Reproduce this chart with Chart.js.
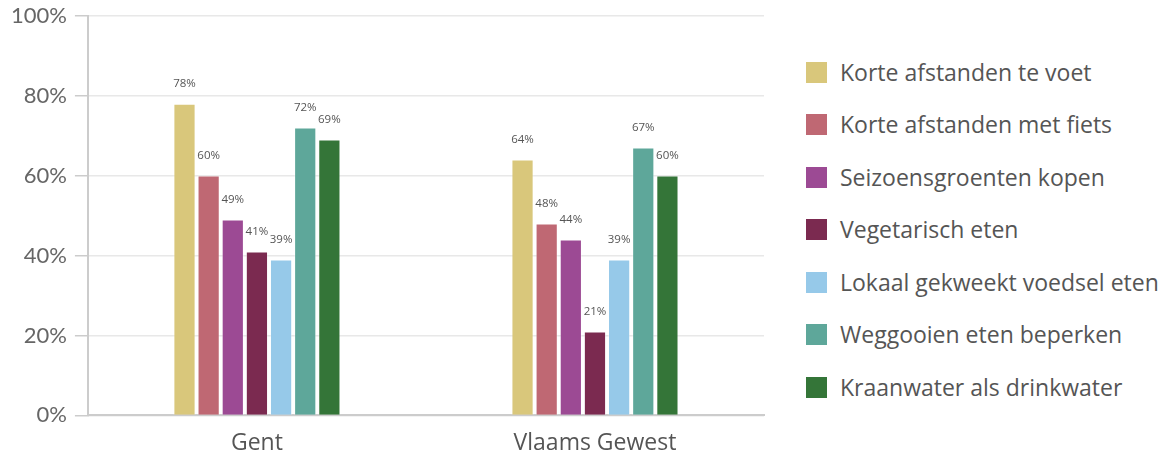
<!DOCTYPE html>
<html>
<head>
<meta charset="utf-8">
<script src="https://cdn.jsdelivr.net/npm/chart.js@4.4.1/dist/chart.umd.min.js"></script>
<style>
  html, body { margin: 0; padding: 0; background: #fff; }
  #wrap { position: relative; width: 1171px; height: 457px; overflow: hidden; }
  #chart { position: absolute; left: 0; top: 0; }
  #legend { position: absolute; left: 806px; top: 46px; margin: 0; padding: 0; list-style: none;
            font-family: "Open Sans", sans-serif; font-size: 23px; line-height: 23px; color: #555; }
  #legend li { height: 52.5px; display: flex; align-items: center; white-space: nowrap; }
  #legend span.box { display: inline-block; width: 21px; height: 21px; margin-right: 13px; }
</style>
</head>
<body>
<div id="wrap">
  <canvas id="chart" width="778" height="457"></canvas>
  <ul id="legend"></ul>
</div>
<script>
// categories and series
const regions = ['Gent', 'Vlaams Gewest'];
const seriesNames = [
  'Korte afstanden te voet',
  'Korte afstanden met fiets',
  'Seizoensgroenten kopen',
  'Vegetarisch eten',
  'Lokaal gekweekt voedsel eten',
  'Weggooien eten beperken',
  'Kraanwater als drinkwater'
];
const seriesColors = ['#d9c77b', '#bf6873', '#9c4a94', '#7b2a50', '#96c9e9', '#5ea79a', '#347538'];
const teVoet = [78, 64];
const metFiets = [60, 48];
const seizoen = [49, 44];
const vegetarisch = [41, 21];
const lokaal = [39, 39];
const weggooien = [72, 67];
const kraanwater = [69, 60];
const seriesValues = [teVoet, metFiets, seizoen, vegetarisch, lokaal, weggooien, kraanwater];
const yTicks = [0, 20, 40, 60, 80, 100];

// draws the small % labels above each bar
const valueLabels = {
  id: 'valueLabels',
  afterDatasetsDraw(chart) {
    const ctx = chart.ctx;
    ctx.save();
    ctx.font = '11.5px "Open Sans", sans-serif';
    ctx.fillStyle = '#555';
    ctx.textAlign = 'center';
    ctx.textBaseline = 'middle';
    chart.data.datasets.forEach((ds, i) => {
      chart.getDatasetMeta(i).data.forEach((bar, j) => {
        ctx.fillText(ds.data[j] + '%', bar.x, bar.y - 20);
      });
    });
    ctx.restore();
  }
};

const chart = new Chart(document.getElementById('chart'), {
  type: 'bar',
  data: {
    labels: regions,
    datasets: seriesNames.map((name, i) => ({
      label: name,
      data: seriesValues[i],
      backgroundColor: seriesColors[i],
      borderColor: 'rgba(255,255,255,0.35)',
      borderWidth: 1,
      barPercentage: 0.92,
      categoryPercentage: 0.5
    }))
  },
  options: {
    responsive: false,
    animation: false,
    layout: { padding: { top: 0, right: 14, left: 3, bottom: -14 } },
    plugins: {
      legend: { display: false },
      tooltip: { enabled: false }
    },
    scales: {
      x: {
        grid: { display: false, drawTicks: false },
        border: { color: '#cccccc', width: 2 },
        ticks: {
          color: '#555',
          padding: 14,
          font: { family: '"Open Sans", sans-serif', size: 23 }
        }
      },
      y: {
        min: 0,
        max: 100,
        afterBuildTicks(axis) {
          axis.ticks = yTicks.map(v => ({ value: v }));
        },
        grid: { color: '#e8e8e8', lineWidth: 1.5, tickLength: 13, tickColor: '#cccccc' },
        border: { color: '#cccccc', width: 2 },
        ticks: {
          color: '#666',
          padding: 8,
          font: { family: 'Lato, sans-serif', size: 22, lineHeight: 0.7 },
          callback: v => v + '%'
        }
      }
    }
  },
  plugins: [valueLabels]
});

// HTML legend built from the chart's own datasets
const legendEl = document.getElementById('legend');
chart.data.datasets.forEach(ds => {
  const li = document.createElement('li');
  const box = document.createElement('span');
  box.className = 'box';
  box.style.background = ds.backgroundColor;
  li.appendChild(box);
  li.appendChild(document.createTextNode(ds.label));
  legendEl.appendChild(li);
});
</script>
</body>
</html>
